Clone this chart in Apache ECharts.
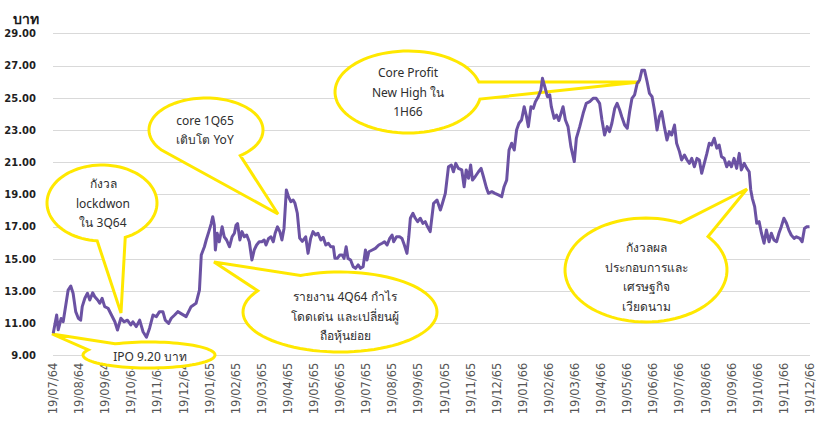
<!DOCTYPE html>
<html>
<head>
<meta charset="utf-8">
<script src="https://cdn.jsdelivr.net/npm/echarts@6/dist/echarts.min.js"></script>
<style>
html,body{margin:0;padding:0;background:#fff;}
#chart{width:816px;height:421px;}
</style>
</head>
<body>
<div id="chart"></div>
<script>
// ---- data ----
const xLabels = ['19/07/64','19/08/64','19/09/64','19/10/64','19/11/64','19/12/64',
  '19/01/65','19/02/65','19/03/65','19/04/65','19/05/65','19/06/65','19/07/65','19/08/65','19/09/65','19/10/65','19/11/65','19/12/65',
  '19/01/66','19/02/66','19/03/66','19/04/66','19/05/66','19/06/66','19/07/66','19/08/66','19/09/66','19/10/66','19/11/66','19/12/66'];
const yTicks = [9,11,13,15,17,19,21,23,25,27,29];
const yTitle = 'บาท';
// position in months from 19/07/64
const pricePos = [0.01,0.14,0.20,0.31,0.39,0.48,0.58,0.68,0.77,0.87,0.97,1.06,1.12,1.22,1.32,1.41,1.52,1.60,1.71,1.79,1.88,1.98,2.11,2.24,2.37,2.47,2.60,2.72,2.85,2.98,3.06,3.19,3.32,3.45,3.58,3.70,3.83,3.96,4.08,4.21,4.30,4.43,4.53,4.66,4.78,5.10,5.29,5.48,5.61,5.68,5.80,5.87,5.97,6.06,6.12,6.18,6.22,6.29,6.37,6.48,6.56,6.65,6.76,6.86,6.95,7.01,7.07,7.16,7.24,7.33,7.42,7.52,7.62,7.71,7.80,7.90,8.00,8.09,8.16,8.26,8.35,8.44,8.51,8.60,8.69,8.77,8.85,8.94,9.02,9.11,9.20,9.27,9.36,9.45,9.55,9.68,9.77,9.87,9.96,10.06,10.15,10.26,10.35,10.45,10.55,10.64,10.74,10.80,10.89,10.99,11.08,11.15,11.23,11.30,11.40,11.50,11.59,11.69,11.78,11.88,11.97,12.03,12.10,12.23,12.35,12.48,12.61,12.70,12.80,12.90,12.99,13.05,13.16,13.28,13.37,13.46,13.56,13.63,13.69,13.79,13.88,13.97,14.07,14.17,14.26,14.35,14.45,14.58,14.71,14.84,14.92,15.03,15.15,15.26,15.34,15.43,15.53,15.66,15.75,15.83,15.92,16.00,16.07,16.17,16.30,16.40,16.49,16.61,16.68,16.81,16.93,17.06,17.19,17.28,17.38,17.47,17.57,17.67,17.76,17.85,17.95,18.05,18.14,18.21,18.31,18.40,18.48,18.59,18.69,18.75,18.84,18.94,19.03,19.09,19.20,19.29,19.38,19.54,19.63,19.73,19.84,19.97,20.05,20.18,20.31,20.43,20.56,20.69,20.81,20.94,21.03,21.13,21.23,21.32,21.41,21.52,21.61,21.71,21.79,21.90,22.00,22.09,22.18,22.28,22.38,22.47,22.56,22.66,22.76,22.85,22.95,23.04,23.14,23.23,23.32,23.42,23.52,23.61,23.70,23.81,23.89,24.00,24.08,24.19,24.29,24.38,24.47,24.57,24.67,24.76,24.85,24.95,25.05,25.14,25.23,25.33,25.43,25.52,25.61,25.71,25.81,25.90,25.99,26.09,26.19,26.29,26.37,26.48,26.58,26.67,26.73,26.79,26.88,26.96,27.05,27.14,27.24,27.33,27.43,27.52,27.62,27.72,27.81,27.90,28.00,28.10,28.19,28.28,28.39,28.48,28.61,28.70,28.79,28.89,28.98];
const priceVal = [10.39,11.52,10.60,11.30,11.10,12.04,13.07,13.32,12.87,11.73,11.32,11.20,12.04,12.56,12.87,12.45,12.90,12.66,12.45,12.25,12.56,12.04,11.94,11.52,11.10,10.59,11.32,11.10,11.20,10.90,11.10,10.80,11.20,10.48,10.14,10.70,11.52,11.42,11.73,11.73,11.20,11.00,11.32,11.52,11.73,11.42,12.04,12.25,13.07,15.25,15.76,16.18,16.70,17.20,17.63,17.10,15.56,16.60,16.07,17.00,16.38,16.18,15.76,16.38,16.60,17.10,17.20,16.18,16.70,16.38,16.49,16.07,14.94,15.56,15.87,16.07,16.07,16.18,15.87,16.28,16.38,16.07,16.60,17.00,16.70,16.18,16.90,19.29,18.87,18.56,18.66,18.46,17.84,16.30,16.10,16.38,15.35,16.28,16.70,16.49,16.60,16.18,16.35,15.87,15.98,15.76,15.76,15.04,15.04,15.25,15.25,15.04,15.76,15.04,14.94,14.52,14.42,14.63,14.42,14.52,15.56,14.94,15.45,15.56,15.66,15.87,15.98,16.07,15.87,16.28,16.49,16.07,16.38,16.38,16.28,15.87,15.35,16.38,17.53,17.84,17.53,17.32,17.53,17.21,17.32,17.00,16.70,18.46,18.66,18.04,18.46,19.08,20.73,20.84,20.42,20.94,20.63,20.53,19.49,20.53,20.01,20.84,19.90,20.11,20.42,20.63,20.11,19.39,19.08,19.18,19.08,18.98,18.87,19.49,19.90,21.77,22.19,21.77,23.01,23.43,23.63,24.46,23.84,23.22,24.46,24.36,24.77,25.08,25.50,26.22,25.70,25.08,25.19,24.46,23.74,23.94,23.60,24.46,23.63,23.22,21.98,21.05,22.50,23.22,24.05,24.67,24.77,24.98,24.98,24.67,23.63,22.70,23.22,22.91,23.43,24.36,24.67,24.25,23.84,23.32,23.12,24.15,24.98,25.19,25.91,26.11,26.73,26.73,26.01,25.29,25.08,24.25,23.01,23.84,24.15,23.22,22.39,22.91,22.70,23.32,22.19,21.67,21.15,21.46,21.15,20.94,21.25,20.73,21.25,21.15,20.32,20.94,21.56,22.19,22.08,22.50,21.88,22.08,21.35,21.25,20.73,21.04,20.73,21.25,20.63,21.56,20.53,20.94,20.63,20.42,19.29,18.77,18.25,17.22,17.32,16.60,15.98,16.80,16.07,16.60,16.18,16.07,16.60,17.01,17.53,17.22,16.80,16.49,16.28,16.38,16.28,16.07,16.91,17.01,17.01];
const calloutTexts = [
  'กังวล\nlockdwon\nใน 3Q64',
  'IPO 9.20 บาท',
  'core 1Q65\nเติบโต YoY',
  'รายงาน 4Q64 กำไร\nโดดเด่น และเปลี่ยนผู้\nถือหุ้นย่อย',
  'Core Profit\nNew High ใน\n1H66',
  'กังวลผล\nประกอบการและ\nเศรษฐกิจ\nเวียดนาม'
];

// ---- layout of annotation bubbles (pixels) ----
const bubbleLayout = [
  {cx:102, cy:203, rx:55, ry:38, a1:65,  a2:95,  tip:[121,313], tx:103, ty:203},
  {cx:149, cy:355, rx:66, ry:13, a1:203, a2:239, tip:[52,334],  tx:150, ty:356},
  {cx:206, cy:130, rx:57, ry:32, a1:53,  a2:142, tip:[278,214], tx:205, ty:130},
  {cx:340, cy:312, rx:97, ry:40, a1:212, a2:246, tip:[214,262], tx:345, ty:316},
  {cx:408, cy:92,  rx:73, ry:41, a1:346, a2:370, tip:[640,82],  tx:408, ty:92},
  {cx:646, cy:270, rx:81, ry:52, a1:295, a2:320, tip:[747,189], tx:646, ty:277}
];
const YELLOW = '#FFE800';

function bubblePoints(b) {
  const pts = [b.tip];
  const start = b.a2, end = b.a1 + 360;
  const n = 80;
  for (let i = 0; i <= n; i++) {
    const a = (start + (end - start) * i / n) * Math.PI / 180;
    pts.push([b.cx + b.rx * Math.cos(a), b.cy + b.ry * Math.sin(a)]);
  }
  return pts;
}

const graphics = [];
bubbleLayout.forEach((b, i) => {
  graphics.push({
    type: 'polygon', z: 1,
    shape: {points: bubblePoints(b)},
    style: {fill: '#ffffff', stroke: YELLOW, lineWidth: 3, lineJoin: 'miter'}
  });
  graphics.push({
    type: 'text', z: 3,
    style: {
      text: calloutTexts[i], x: b.tx, y: b.ty,
      align: 'center', verticalAlign: 'middle',
      fill: '#2e2e2e', font: '12px "Noto Sans", "Liberation Sans", sans-serif',
      lineHeight: 19.5
    }
  });
});
graphics.push({
  type: 'text', z: 3,
  style: {text: yTitle, x: 13, y: 18, verticalAlign: 'middle',
    fill: '#1a1a1a', font: 'bold 14px "Noto Sans", sans-serif'}
});

const chart = echarts.init(document.getElementById('chart'), null, {renderer: 'svg'});
chart.setOption({
  animation: false,
  backgroundColor: '#ffffff',
  grid: {left: 53, right: 6, top: 33.6, bottom: 65.4, containLabel: false, outerBoundsMode: 'none'},
  xAxis: {
    type: 'value', min: 0, max: xLabels.length - 1, interval: 1,
    axisLine: {show: false}, axisTick: {show: false}, splitLine: {show: false},
    axisLabel: {
      rotate: 90, margin: 7, fontSize: 11.5, color: '#555555',
      fontFamily: '"DejaVu Sans", sans-serif',
      formatter: v => xLabels[Math.round(v)] || ''
    }
  },
  yAxis: {
    type: 'value', min: yTicks[0], max: yTicks[yTicks.length - 1], interval: 2,
    axisLine: {show: false}, axisTick: {show: false},
    splitLine: {lineStyle: {color: '#d9d9d9', width: 1}},
    axisLabel: {
      margin: 17, fontSize: 10, fontWeight: 'bold', color: '#1f1f1f',
      fontFamily: '"DejaVu Sans", sans-serif',
      formatter: v => v.toFixed(2)
    }
  },
  series: [{
    type: 'line', z: 2,
    data: pricePos.map((p, i) => [p, priceVal[i]]),
    showSymbol: false, symbol: 'none',
    lineStyle: {color: '#6B52A3', width: 3, join: 'round'}
  }],
  graphic: graphics
});
</script>
</body>
</html>
